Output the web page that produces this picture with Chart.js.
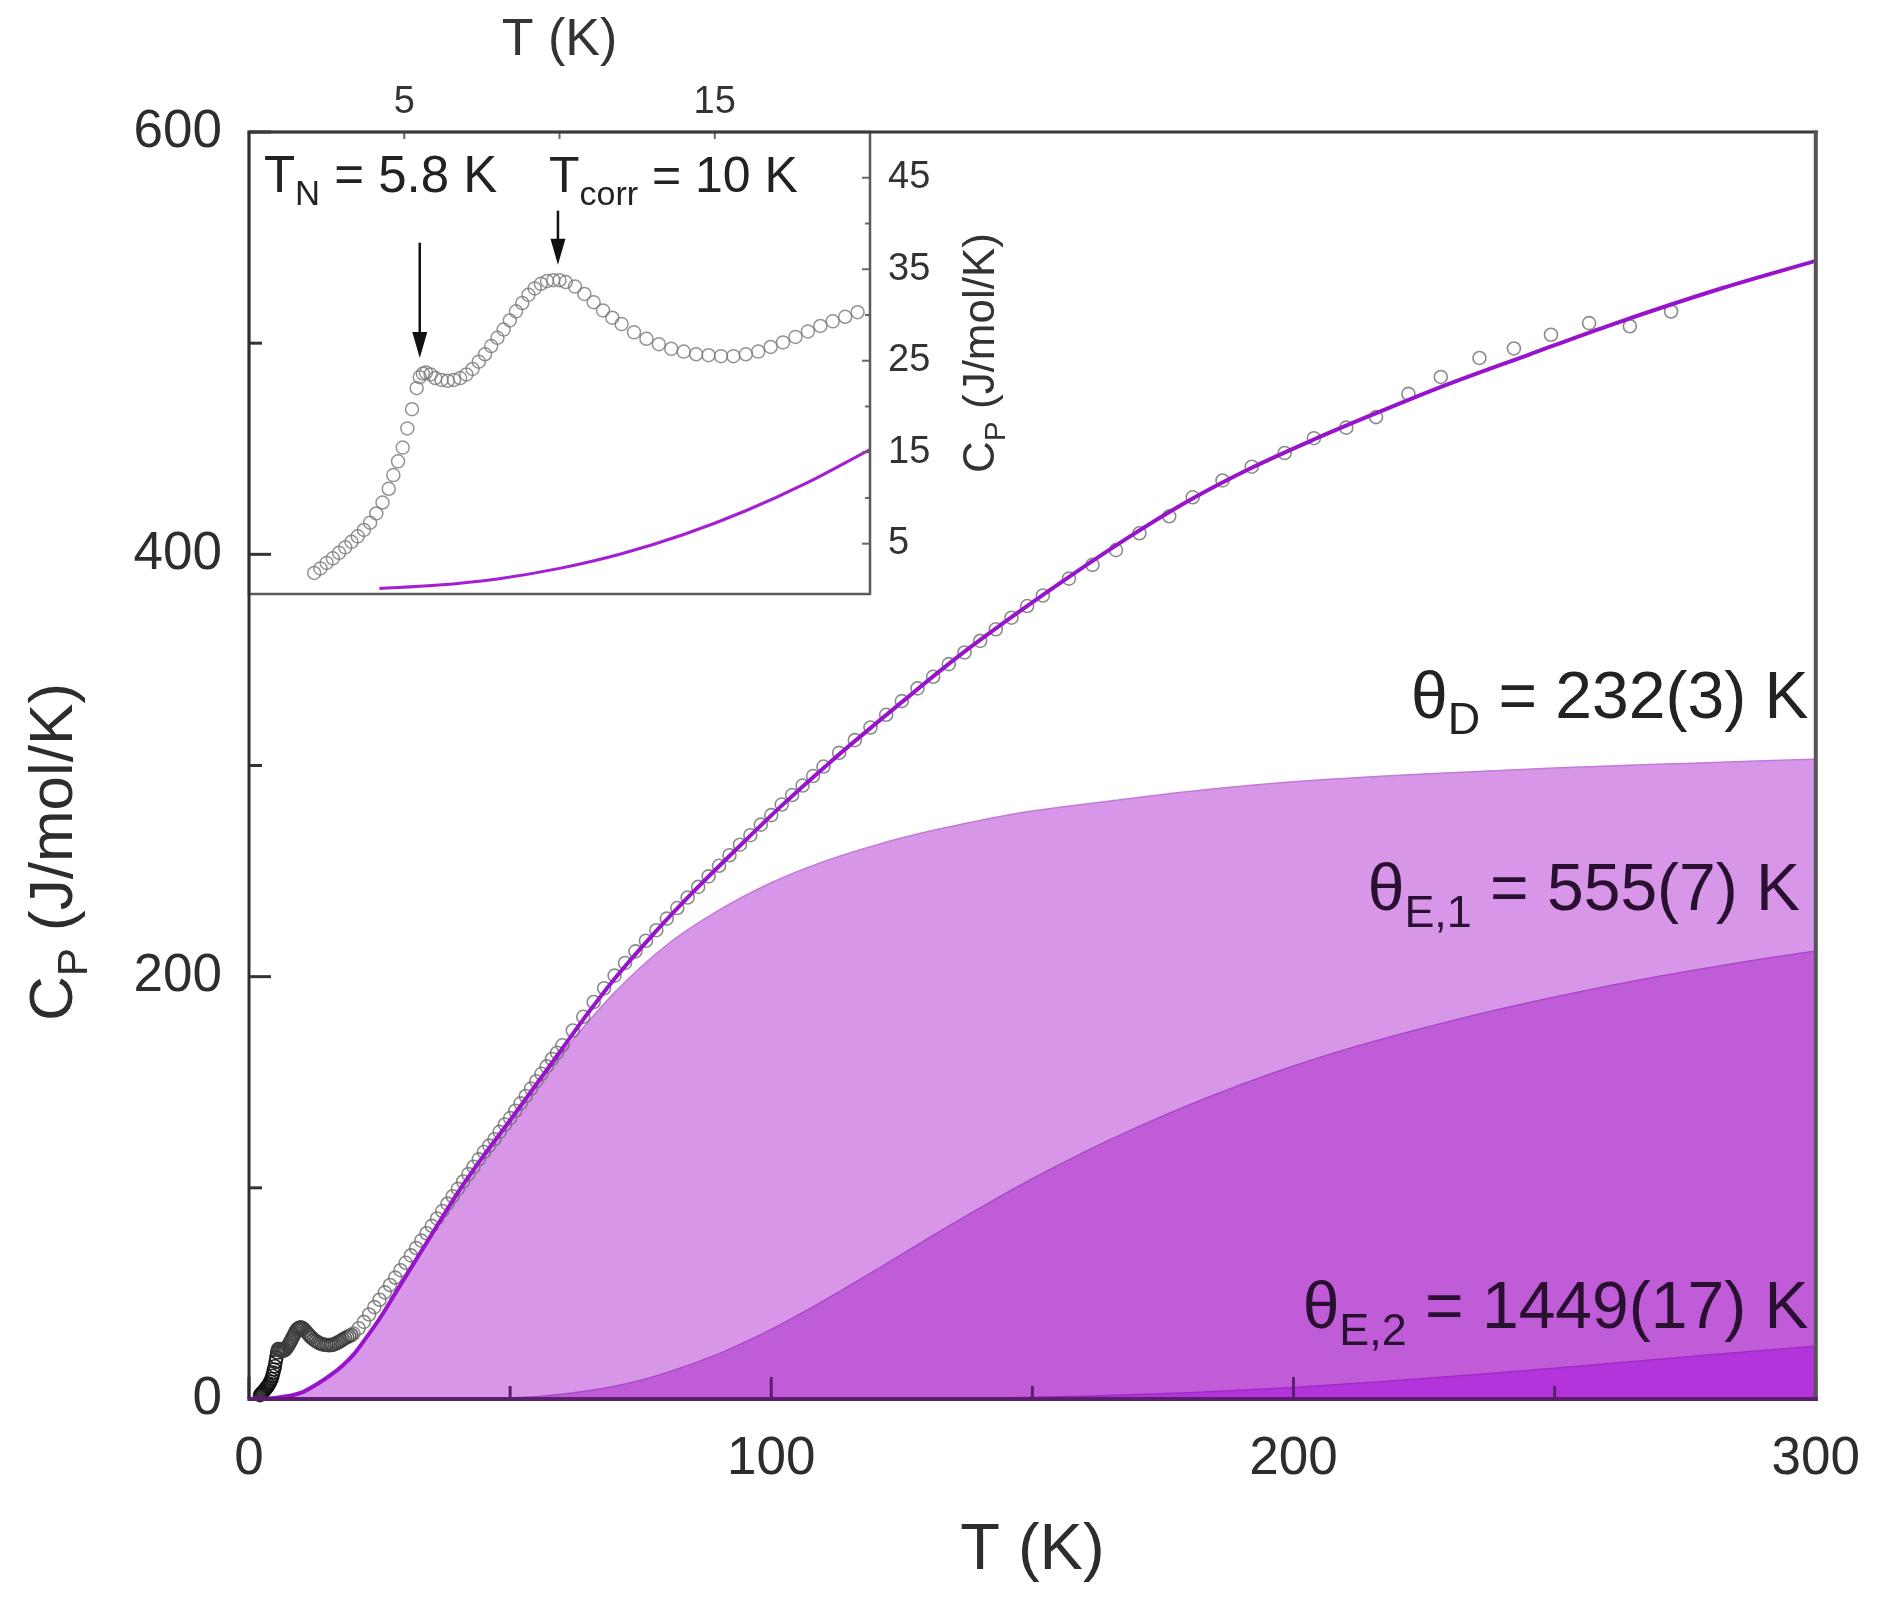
<!DOCTYPE html>
<html>
<head>
<meta charset="utf-8">
<title>Cp vs T</title>
<script src="https://cdn.jsdelivr.net/npm/chart.js@4.4.1/dist/chart.umd.min.js"></script>
<style>
  html, body { margin: 0; padding: 0; background: #fff; }
  #wrap { position: relative; width: 1881px; height: 1601px; }
  #wrap canvas { position: absolute; left: 0; top: 0; }
  #inset { z-index: 0; }
  #main { z-index: 1; }
</style>
</head>
<body>
<div id="wrap">
  <canvas id="inset" width="1881" height="1601"></canvas>
  <canvas id="main" width="1881" height="1601"></canvas>
</div>
<script>
const FONT = '"Liberation Sans", Arial, Helvetica, sans-serif';
Chart.defaults.font.family = FONT;

// measured Cp (J/mol/K) vs T (K), low temperature part (also shown in the inset)
const lowT = [2.1, 2.3, 2.5, 2.7, 2.9, 3.1, 3.3, 3.5, 3.7, 3.9, 4.1, 4.3, 4.5, 4.65, 4.8, 4.95,
  5.1, 5.25, 5.4, 5.5, 5.6, 5.7, 5.85, 6.0, 6.2, 6.4, 6.6, 6.8, 7.0, 7.2, 7.4, 7.6, 7.8, 8.0,
  8.2, 8.4, 8.6, 8.8, 9.0, 9.2, 9.4, 9.6, 9.8, 10.0, 10.2, 10.5, 10.8, 11.1, 11.4, 11.7, 12.0,
  12.4, 12.8, 13.2, 13.6, 14.0, 14.4, 14.8, 15.2, 15.6, 16.0, 16.4, 16.8, 17.2, 17.6, 18.0,
  18.4, 18.8, 19.2, 19.6];
const lowCp = [1.8, 2.3, 2.9, 3.4, 4.0, 4.6, 5.2, 5.8, 6.5, 7.3, 8.3, 9.5, 11.0, 12.5, 14.0, 15.5,
  17.6, 19.7, 22.0, 23.2, 23.6, 23.7, 23.5, 23.1, 22.9, 22.8, 22.9, 23.1, 23.5, 24.1, 24.9, 25.7, 26.6, 27.5,
  28.4, 29.4, 30.4, 31.3, 32.2, 32.9, 33.4, 33.7, 33.8, 33.8, 33.6, 33.1, 32.3, 31.4, 30.5, 29.7, 29.0,
  28.1, 27.4, 26.8, 26.3, 26.0, 25.7, 25.6, 25.5, 25.5, 25.7, 26.0, 26.5, 27.0, 27.6, 28.2,
  28.8, 29.3, 29.8, 30.3];

// measured Cp, 20 K and up
const highT = [20, 21, 22, 23, 24, 25, 26, 27, 28, 29, 30, 31, 32, 33, 34, 35, 36, 37, 38, 39, 40,
  41, 42, 43, 44, 45, 46, 47, 48, 49, 50, 51, 52, 53, 54, 55, 56, 57, 58, 59, 60,
  62, 64, 66, 68, 70, 72, 74, 76, 78, 80, 82, 84, 86, 88, 90, 92, 94, 96, 98, 100,
  102, 104, 106, 108, 110, 113, 116, 119, 122, 125, 128, 131, 134, 137, 140, 143, 146, 149, 152,
  157, 161.5, 166, 170.5, 176.2, 180.7, 186.4, 192, 198.3, 203.9, 210.1, 215.8, 222, 228.2,
  235.6, 242.2, 249.3, 256.6, 264.4, 272.3];
const highCp = [31, 33.5, 36.5, 40, 43.5, 47, 50.5, 54, 57.5, 61, 64.5, 68, 71.5, 75, 78.5, 82, 85.5, 89, 92.5, 96, 99.5,
  103, 106.5, 110, 113.5, 117, 120, 123, 126.5, 130, 133, 136.5, 140, 143.5, 147, 150.5, 154, 157.5, 161, 164, 167.5,
  174.5, 181, 188, 194.5, 200.5, 206.5, 212, 217, 222, 227.5, 232.5, 237.5, 242.5, 247.5, 252.5, 257.5, 262.5, 267, 272, 276.5,
  281.5, 286, 290.5, 295, 299.5, 306, 312, 318, 324, 330.5, 336.5, 342, 348, 353.5, 359, 364.5, 370, 375.5, 380.5,
  388.5, 395, 402, 410, 418, 427, 435, 441.5, 448, 455, 460, 465, 476, 484,
  493, 497.5, 504, 509.5, 508, 515];

// total fit (Debye + 2 Einstein), main panel
const fitT = [0, 5, 10, 13, 16, 18, 20, 22, 25, 28, 32, 35, 38, 41, 45, 50, 55, 60, 65, 70,
  77, 85, 94, 102, 111, 125, 136, 147, 158, 169, 180, 192, 204, 215, 229, 245, 260, 282, 300];
const fitCp = [0, 0.5, 3, 7, 12, 16, 21, 27.5, 38, 50, 66, 78, 90, 101.5, 115.5, 132, 149, 166, 183, 199,
  219, 240, 262, 281, 301, 330, 352, 372, 391, 409, 425.5, 441, 454.5, 466, 480, 494.5, 508, 526, 539];

// total fit as read in the inset
const insetFitT = [4.2, 6, 8, 10, 12, 14, 16, 18, 20];
const insetFitCp = [0.1, 0.45, 1.15, 2.3, 3.9, 6.0, 8.6, 11.7, 15.3];

// Debye contribution
const debyeT = [0, 10, 16, 20, 25, 30, 35, 40, 45, 50, 55, 60, 70, 80, 90, 100, 110, 120, 130, 140,
  150, 165, 180, 200, 225, 250, 275, 300];
const debyeCp = [0, 3, 12, 21, 38, 58, 78, 97.5, 115.3, 131.5, 148, 164, 192.5, 215, 231.5, 244.5, 254.5, 262.3, 268.7, 274,
  278.4, 283.2, 287.7, 292.3, 296, 298.8, 301, 303];

// Einstein 1 contribution
const ein1T = [0, 40, 50, 60, 70, 80, 90, 100, 110, 120, 130, 140, 150, 160, 170, 180, 190, 200,
  210, 220, 230, 240, 250, 260, 270, 280, 290, 300];
const ein1Cp = [0, 0, 0.5, 2.3, 6, 12.5, 21.5, 33, 46.5, 61, 76, 90.5, 104.3, 117, 128.6, 139.2, 148.9, 157.7,
  165.5, 172.5, 178.9, 184.9, 190.4, 195.5, 200.2, 204.5, 208.5, 212.2];

// Einstein 2 contribution
const ein2T = [0, 120, 140, 160, 180, 200, 220, 240, 260, 280, 300];
const ein2Cp = [0, 0, 0.3, 1.3, 3, 5.5, 8.8, 12.6, 16.7, 20.9, 25];

// ticks
const xMajor = [0, 100, 200, 300];
const xMinor = [50, 150, 250];
const yMajor = [0, 200, 400, 600];
const yMinor = [100, 300, 500];
const insetXMajor = [5, 15];
const insetXMinor = [10];
const insetYMajor = [5, 15, 25, 35, 45];
const insetYMinor = [10, 20, 30, 40];

const xy = (xs, ys) => xs.map((x, i) => ({ x: x, y: ys[i] }));
const asTicks = vals => vals.map(v => ({ value: v }));

const FIT_COLOR = '#9814cc';
const TEXT = '#2d2d2d';

// text with subscripts, parts = [[text, isSub], ...], y is the baseline
function richText(ctx, parts, x, y, size, align, color) {
  const subSize = size * 0.68;
  let total = 0;
  const widths = parts.map(([t, sub]) => {
    ctx.font = (sub ? subSize : size) + 'px ' + FONT;
    const w = ctx.measureText(t).width;
    total += w;
    return w;
  });
  let cx = align === 'right' ? x - total : align === 'center' ? x - total / 2 : x;
  ctx.fillStyle = color;
  ctx.textAlign = 'left';
  ctx.textBaseline = 'alphabetic';
  parts.forEach(([t, sub], i) => {
    ctx.font = (sub ? subSize : size) + 'px ' + FONT;
    ctx.fillText(t, cx, sub ? y + size * 0.25 : y);
    cx += widths[i];
  });
}

function seg(ctx, x1, y1, x2, y2) {
  ctx.beginPath();
  ctx.moveTo(x1, y1);
  ctx.lineTo(x2, y2);
  ctx.stroke();
}

function arrowDown(ctx, x, y1, y2) {
  ctx.strokeStyle = '#111';
  ctx.fillStyle = '#111';
  ctx.lineWidth = 2.5;
  seg(ctx, x, y1, x, y2 - 20);
  ctx.beginPath();
  ctx.moveTo(x - 7.5, y2 - 26);
  ctx.lineTo(x + 7.5, y2 - 26);
  ctx.lineTo(x, y2);
  ctx.closePath();
  ctx.fill();
}

// darker rings where the low temperature points pile up
function circleColor(c) {
  const t = c.raw ? c.raw.x : 50;
  if (t < 5.5) return 'rgba(15,15,15,0.9)';
  if (t < 20) return 'rgba(60,60,60,0.85)';
  return 'rgba(110,110,110,0.8)';
}

const mainDecor = {
  id: 'mainDecor',
  afterDraw(chart) {
    const { ctx, chartArea: ca, scales: { x, y } } = chart;
    ctx.save();
    ctx.lineCap = 'butt';
    // inward ticks
    ctx.strokeStyle = '#333';
    ctx.lineWidth = 3;
    yMajor.forEach(v => { const p = y.getPixelForValue(v); seg(ctx, ca.left, p, ca.left + 22, p); });
    yMinor.forEach(v => { const p = y.getPixelForValue(v); seg(ctx, ca.left, p, ca.left + 13, p); });
    ctx.strokeStyle = '#5b1f6e';
    xMajor.forEach(v => { const p = x.getPixelForValue(v); seg(ctx, p, ca.bottom, p, ca.bottom - 22); });
    xMinor.forEach(v => { const p = x.getPixelForValue(v); seg(ctx, p, ca.bottom, p, ca.bottom - 13); });
    // frame
    ctx.lineWidth = 3;
    ctx.strokeStyle = '#3a3a3a';
    seg(ctx, ca.left - 1.5, ca.top, ca.right + 2, ca.top);
    ctx.strokeStyle = '#2e2e2e';
    seg(ctx, ca.left, ca.top, ca.left, ca.bottom);
    ctx.lineWidth = 4;
    ctx.strokeStyle = '#555';
    seg(ctx, ca.right, ca.top - 1.5, ca.right, ca.bottom + 2);
    ctx.strokeStyle = '#5b1f6e';
    seg(ctx, ca.left - 1.5, ca.bottom, ca.right + 2, ca.bottom);

    // labels of the three contributions
    richText(ctx, [['\u03b8'], ['D', 1], [' = 232(3) K']],
      x.getPixelForValue(298.6), y.getPixelForValue(322.5), 66, 'right', '#222');
    richText(ctx, [['\u03b8'], ['E,1', 1], [' = 555(7) K']],
      x.getPixelForValue(297), y.getPixelForValue(231.5), 66, 'right', '#2a1030');
    richText(ctx, [['\u03b8'], ['E,2', 1], [' = 1449(17) K']],
      x.getPixelForValue(298.6), y.getPixelForValue(33.6), 66, 'right', '#2a1030');

    // y axis title
    ctx.translate(50, 852);
    ctx.rotate(-Math.PI / 2);
    richText(ctx, [['C'], ['P', 1], [' (J/mol/K)']], 0, 62 * 0.35, 62, 'center', TEXT);
    ctx.restore();
  }
};

const insetDecor = {
  id: 'insetDecor',
  afterDraw(chart) {
    const { ctx, chartArea: ca, scales: { x, y } } = chart;
    ctx.save();
    ctx.strokeStyle = '#666';
    ctx.lineWidth = 2;
    insetXMajor.concat(insetXMinor).forEach(v => { const p = x.getPixelForValue(v); seg(ctx, p, ca.top, p, ca.top + 7); });
    insetYMajor.forEach(v => { const p = y.getPixelForValue(v); seg(ctx, ca.right, p, ca.right - 8, p); });
    insetYMinor.forEach(v => { const p = y.getPixelForValue(v); seg(ctx, ca.right, p, ca.right - 5, p); });
    ctx.lineWidth = 2.5;
    ctx.strokeStyle = '#5a5a5a';
    ctx.strokeRect(ca.left, ca.top, ca.right - ca.left, ca.bottom - ca.top);

    richText(ctx, [['T'], ['N', 1], [' = 5.8 K']],
      x.getPixelForValue(0.48), y.getPixelForValue(43.4), 51, 'left', '#222');
    richText(ctx, [['T'], ['corr', 1], [' = 10 K']],
      x.getPixelForValue(9.66), y.getPixelForValue(43.4), 50, 'left', '#222');
    arrowDown(ctx, x.getPixelForValue(5.5), y.getPixelForValue(37.9), y.getPixelForValue(25.3));
    arrowDown(ctx, x.getPixelForValue(9.95), y.getPixelForValue(41.4), y.getPixelForValue(35.5));

    ctx.translate(979, 353);
    ctx.rotate(-Math.PI / 2);
    richText(ctx, [['C'], ['P', 1], [' (J/mol/K)']], 0, 44 * 0.35, 44, 'center', '#333');
    ctx.restore();
  }
};

const lineDefaults = { pointRadius: 0, cubicInterpolationMode: 'monotone' };

new Chart(document.getElementById('main'), {
  type: 'line',
  data: {
    datasets: [
      Object.assign({ label: 'fit', data: xy(fitT, fitCp), borderColor: FIT_COLOR, borderWidth: 4, fill: false }, lineDefaults),
      { label: 'data', data: xy(lowT.concat(highT), lowCp.concat(highCp)), showLine: false, clip: false,
        pointRadius: 6.5, pointBorderWidth: 1.6, pointBorderColor: circleColor, pointBackgroundColor: 'rgba(0,0,0,0)' },
      Object.assign({ label: 'E2', data: xy(ein2T, ein2Cp), fill: 'origin', backgroundColor: '#b434dc', borderColor: '#a02ac8', borderWidth: 1.5 }, lineDefaults),
      Object.assign({ label: 'E1', data: xy(ein1T, ein1Cp), fill: 'origin', backgroundColor: '#c15cd9', borderColor: '#a94bc6', borderWidth: 1.5 }, lineDefaults),
      Object.assign({ label: 'D', data: xy(debyeT, debyeCp), fill: 'origin', backgroundColor: '#d896e8', borderColor: '#c27ad8', borderWidth: 1.5 }, lineDefaults)
    ]
  },
  options: {
    responsive: false,
    animation: false,
    devicePixelRatio: 1,
    events: [],
    layout: { padding: { top: 132, right: 59, left: 0, bottom: 0 } },
    plugins: { legend: { display: false }, tooltip: { enabled: false } },
    scales: {
      x: {
        type: 'linear', min: 0, max: 300,
        afterBuildTicks: s => { s.ticks = asTicks(xMajor); },
        afterFit: s => { s.height = 202; },
        grid: { display: false }, border: { display: false },
        ticks: { font: { size: 53 }, color: TEXT, padding: 21, maxRotation: 0, autoSkip: false },
        title: { display: true, text: 'T (K)', color: TEXT, font: { size: 65 }, padding: { top: 0, bottom: 11 } }
      },
      y: {
        type: 'linear', min: 0, max: 600,
        afterBuildTicks: s => { s.ticks = asTicks(yMajor); },
        afterFit: s => { s.width = 249; },
        grid: { display: false }, border: { display: false },
        ticks: { font: { size: 53 }, color: TEXT, padding: 19, autoSkip: false }
      }
    }
  },
  plugins: [mainDecor]
});

new Chart(document.getElementById('inset'), {
  type: 'line',
  data: {
    datasets: [
      Object.assign({ label: 'fit', data: xy(insetFitT, insetFitCp), borderColor: '#a41ed2', borderWidth: 3, fill: false }, lineDefaults),
      { label: 'data', data: xy(lowT, lowCp), showLine: false,
        pointRadius: 6.5, pointBorderWidth: 1.5, pointBorderColor: 'rgba(120,120,120,0.8)', pointBackgroundColor: 'rgba(0,0,0,0)' }
    ]
  },
  options: {
    responsive: false,
    animation: false,
    devicePixelRatio: 1,
    events: [],
    layout: { padding: { top: 0, right: 0, left: 249, bottom: 1007 } },
    plugins: { legend: { display: false }, tooltip: { enabled: false } },
    scales: {
      x: {
        type: 'linear', position: 'top', min: 0, max: 20,
        afterBuildTicks: s => { s.ticks = asTicks(insetXMajor); },
        afterFit: s => { s.height = 132; },
        grid: { display: false }, border: { display: false },
        ticks: { font: { size: 38 }, color: '#333', padding: -1, maxRotation: 0, autoSkip: false },
        title: { display: true, text: 'T (K)', color: '#333', font: { size: 52 }, padding: { top: 9, bottom: 0 } }
      },
      y: {
        type: 'linear', position: 'right', min: -0.5, max: 50,
        afterBuildTicks: s => { s.ticks = asTicks(insetYMajor); },
        afterFit: s => { s.width = 1011; },
        grid: { display: false }, border: { display: false },
        ticks: { font: { size: 38 }, color: '#333', padding: 10, autoSkip: false }
      }
    }
  },
  plugins: [insetDecor]
});
</script>
</body>
</html>
